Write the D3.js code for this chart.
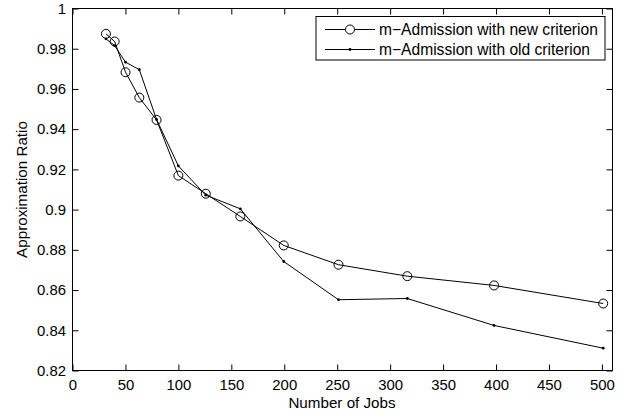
<!DOCTYPE html>
<html><head><meta charset="utf-8">
<script src="https://cdn.jsdelivr.net/npm/d3@7"></script>
<style>
html,body{margin:0;padding:0;background:#fff;}
svg{display:block;font-family:"Liberation Sans",Arial,Helvetica,sans-serif;}
</style></head>
<body>
<svg id="chart" width="629" height="418"></svg>
<script>
const jobs = [31.6, 39.8, 50.1, 63.1, 79.4, 100, 125.9, 158.5, 199.5, 251.2, 316.2, 398.1, 501.2];
const newCriterion = [0.9874, 0.9836, 0.9683, 0.9557, 0.9446, 0.9169, 0.9079, 0.8966, 0.8822, 0.8726, 0.8669, 0.8623, 0.8533];
const oldCriterion = [0.9849, 0.9815, 0.9733, 0.9696, 0.9448, 0.9217, 0.9072, 0.9004, 0.8742, 0.8552, 0.8558, 0.8424, 0.8311];
const xTicks = [0, 50, 100, 150, 200, 250, 300, 350, 400, 450, 500];
const yTicks = [0.82, 0.84, 0.86, 0.88, 0.9, 0.92, 0.94, 0.96, 0.98, 1];
const seriesNames = ["m\u2212Admission with new criterion", "m\u2212Admission with old criterion"];
const xLabel = "Number of Jobs";
const yLabel = "Approximation Ratio";

const svg = d3.select("#chart");
const L = 72.5, R = 612.5, T = 8.5, B = 370.5;
const x = d3.scaleLinear().domain([0, 510]).range([L, R]);
const y = d3.scaleLinear().domain([0.82, 1]).range([B, T]);
const fs = "14.9px";
const fmtY = d => (d === 1 ? "1" : String(+d.toFixed(2)));

// bottom axis
const gx = svg.append("g").attr("transform", `translate(0,${B})`)
  .call(d3.axisBottom(x).tickValues(xTicks).tickSizeInner(-6).tickSizeOuter(0).tickPadding(9));
gx.select(".domain").remove();
gx.selectAll("text").attr("font-size", fs).attr("fill", "#000").attr("font-family", "Liberation Sans, Arial, sans-serif");
gx.selectAll("line").attr("stroke", "#000");
// top ticks
const gxt = svg.append("g").attr("transform", `translate(0,${T})`)
  .call(d3.axisTop(x).tickValues(xTicks).tickSizeInner(-6).tickSizeOuter(0).tickFormat(""));
gxt.select(".domain").remove();
gxt.selectAll("line").attr("stroke", "#000");

// left axis
const gy = svg.append("g").attr("transform", `translate(${L},0)`)
  .call(d3.axisLeft(y).tickValues(yTicks).tickSizeInner(-6).tickSizeOuter(0).tickPadding(6.5).tickFormat(fmtY));
gy.select(".domain").remove();
gy.selectAll("text").attr("font-size", fs).attr("fill", "#000").attr("font-family", "Liberation Sans, Arial, sans-serif");
gy.selectAll("line").attr("stroke", "#000");
const gyr = svg.append("g").attr("transform", `translate(${R},0)`)
  .call(d3.axisRight(y).tickValues(yTicks).tickSizeInner(-6).tickSizeOuter(0).tickFormat(""));
gyr.select(".domain").remove();
gyr.selectAll("line").attr("stroke", "#000");

// frame
svg.append("rect").attr("x", L).attr("y", T).attr("width", R - L).attr("height", B - T)
  .attr("fill", "none").attr("stroke", "#000").attr("stroke-width", 1);

// labels
svg.append("text").attr("x", (L + R) / 2 - 0.5).attr("y", 407.5).attr("text-anchor", "middle")
  .attr("font-size", "15.2px").text(xLabel);
svg.append("text").attr("transform", `translate(26.5,${(T + B) / 2}) rotate(-90)`)
  .attr("text-anchor", "middle").attr("font-size", "15.2px").text(yLabel);

const line = d3.line().x(d => x(d[0])).y(d => y(d[1]));
const newData = jobs.map((j, i) => [j, newCriterion[i]]);
const oldData = jobs.map((j, i) => [j, oldCriterion[i]]);

svg.append("path").datum(oldData).attr("d", line).attr("fill", "none").attr("stroke", "#000").attr("stroke-width", 1);
svg.append("path").datum(newData).attr("d", line).attr("fill", "none").attr("stroke", "#000").attr("stroke-width", 1);
svg.selectAll("circle.new").data(newData).enter().append("circle").attr("class", "new")
  .attr("cx", d => x(d[0])).attr("cy", d => y(d[1])).attr("r", 4.5)
  .attr("fill", "none").attr("stroke", "#000").attr("stroke-width", 1);
svg.selectAll("circle.old").data(oldData).enter().append("circle").attr("class", "old")
  .attr("cx", d => x(d[0])).attr("cy", d => y(d[1])).attr("r", 1.4).attr("fill", "#000");

// legend
const lg = svg.append("g");
lg.append("rect").attr("x", 316).attr("y", 16.5).attr("width", 289).attr("height", 43.5)
  .attr("fill", "#fff").attr("stroke", "#000").attr("stroke-width", 1);
const rows = [29.5, 49.5];
seriesNames.forEach((name, i) => {
  lg.append("line").attr("x1", 325).attr("x2", 375).attr("y1", rows[i]).attr("y2", rows[i])
    .attr("stroke", "#000").attr("stroke-width", 1);
  if (i === 0) {
    lg.append("circle").attr("cx", 350).attr("cy", rows[i]).attr("r", 4.5)
      .attr("fill", "#fff").attr("stroke", "#000").attr("stroke-width", 1);
  } else {
    lg.append("circle").attr("cx", 350).attr("cy", rows[i]).attr("r", 1.4).attr("fill", "#000");
  }
  lg.append("text").attr("x", 379).attr("y", rows[i]).attr("dy", "0.33em")
    .attr("font-size", "15.6px").text(name);
});
</script>
</body></html>
